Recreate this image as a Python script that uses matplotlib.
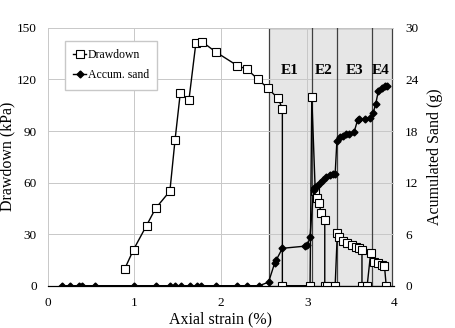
import matplotlib
matplotlib.use("Agg")
import matplotlib.pyplot as plt

# drawdown (kPa) vs axial strain (%)
dd_strain = [0.89, 0.99, 1.14, 1.245, 1.41, 1.47, 1.53, 1.63, 1.71, 1.78, 1.94, 2.19, 2.30,
             2.43, 2.54, 2.66, 2.71, 2.71, 3.03, 3.05, 3.09, 3.11, 3.13, 3.16, 3.20, 3.20,
             3.23, 3.32, 3.345, 3.37, 3.41, 3.46, 3.51, 3.56, 3.60, 3.63, 3.63, 3.69, 3.73,
             3.77, 3.81, 3.86, 3.89, 3.91]
dd_kpa = [10, 21, 35, 45, 55, 85, 112, 108, 141, 142, 136, 128, 126,
          120, 115, 109, 103, 0, 0, 110, 55, 51, 48, 42.5, 38, 0,
          0, 0, 30.5, 28.5, 26, 24.7, 23.7, 22.7, 21.8, 20.8, 0, 0, 18.8,
          14, 13, 12, 11.5, 0]

# accumulated sand (g) vs axial strain (%)
sand_strain = [0.16, 0.25, 0.36, 0.40, 0.54, 1.00, 1.245, 1.41, 1.47, 1.54, 1.64, 1.72, 1.77,
               1.94, 2.19, 2.30, 2.44, 2.55, 2.62, 2.64, 2.71, 2.97, 3.00, 3.03, 3.07, 3.09,
               3.11, 3.14, 3.18, 3.22, 3.26, 3.30, 3.32, 3.34, 3.38, 3.41, 3.45, 3.48, 3.54,
               3.58, 3.60, 3.66, 3.72, 3.76, 3.79, 3.82, 3.86, 3.90, 3.92]
sand_g = [0, 0, 0, 0, 0, 0, 0, 0, 0, 0, 0, 0, 0,
          0, 0, 0, 0, 0.4, 2.6, 3.0, 4.35, 4.6, 4.7, 5.7, 11.1, 11.5,
          11.6, 11.9, 12.3, 12.7, 12.9, 13.0, 13.0, 16.8, 17.3, 17.4, 17.6, 17.7, 17.9,
          19.3, 19.4, 19.45, 19.5, 20.1, 21.2, 22.7, 23.0, 23.2, 23.25]

# event zones
zone_edges = [2.55, 3.05, 3.34, 3.75, 3.98]
zone_names = ["E1", "E2", "E3", "E4"]
zone_label_x = [2.80, 3.19, 3.54, 3.85]

plt.rcParams["font.family"] = ["Liberation Serif", "DejaVu Serif"]

fig = plt.figure(figsize=(4.56, 3.28), dpi=100)
ax = fig.add_axes([0.105, 0.129, 0.759, 0.786])
ax2 = ax.twinx()

ax.axvspan(zone_edges[0], zone_edges[-1], facecolor="#e6e6e6", edgecolor="#404040",
           linewidth=0.9, zorder=0.5)
for xe in zone_edges[1:-1]:
    ax.axvline(xe, color="#404040", linewidth=0.9, zorder=0.6)
for name, xl in zip(zone_names, zone_label_x):
    ax.text(xl, 125, name, ha="center", va="center", fontsize=11, fontweight="bold")

l1, = ax.plot(dd_strain, dd_kpa, color="black", linewidth=1.0, marker="s", markersize=6,
              markerfacecolor="white", markeredgecolor="black", markeredgewidth=0.8,
              label="Drawdown", zorder=3)
l2, = ax2.plot(sand_strain, sand_g, color="black", linewidth=1.0, marker="D", markersize=3.5,
               markerfacecolor="black", label="Accum. sand", zorder=3)

ax.set_xlim(0, 4)
ax.set_ylim(0, 150)
ax2.set_ylim(0, 30)
ax.set_xticks([0, 1, 2, 3, 4])
ax.set_yticks(range(0, 151, 30))
ax2.set_yticks(range(0, 31, 6))
ax.grid(True, color="#c8c8c8", linewidth=0.7, zorder=0)
ax.set_axisbelow(True)

for a in (ax, ax2):
    for s in ("top", "left", "right"):
        a.spines[s].set_visible(False)
    a.spines["bottom"].set_color("black")
    a.tick_params(length=0, labelsize=9.5, pad=8)

ax.set_xlabel("Axial strain (%)", fontsize=11.5, labelpad=2)
ax.set_ylabel("Drawdown (kPa)", fontsize=11.5, labelpad=1)
ax2.set_ylabel("Acumulated Sand (g)", fontsize=11.5, labelpad=6)

leg = ax2.legend(handles=[l1, l2], loc="upper left", bbox_to_anchor=(0.05, 0.95),
                 borderaxespad=0, fontsize=8.5, handlelength=1.1, handletextpad=0.1,
                 fancybox=False, framealpha=1, edgecolor="#c8c8c8", borderpad=0.7,
                 labelspacing=0.7)

fig.savefig("out.png", dpi=100)
